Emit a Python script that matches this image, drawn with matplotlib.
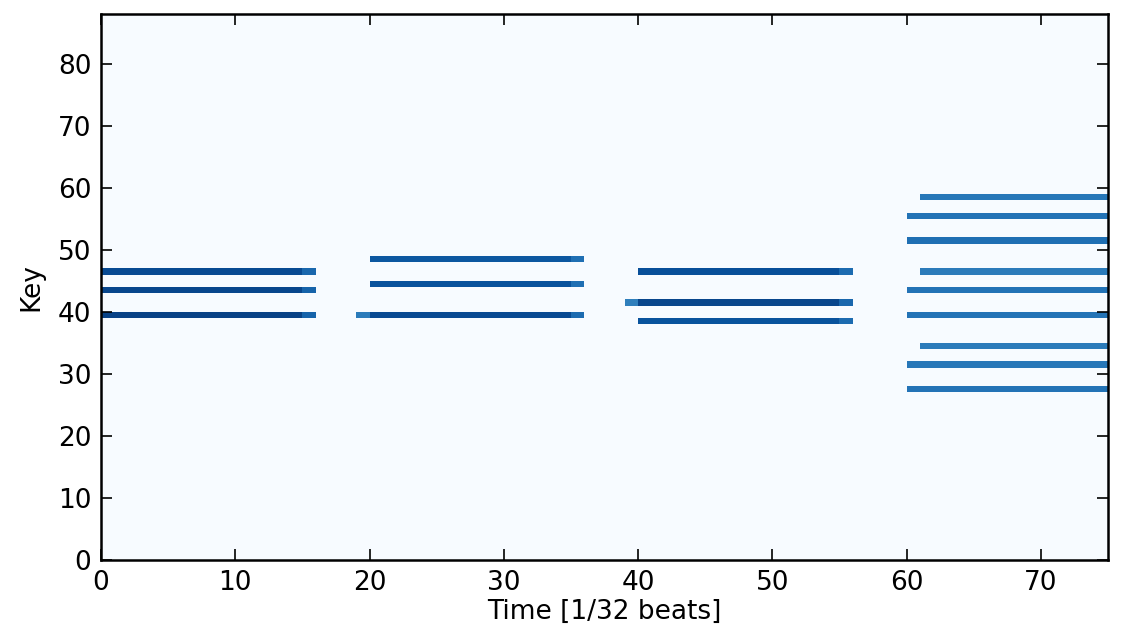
import numpy as np
import matplotlib.pyplot as plt

n_keys = 88
n_steps = 75

# notes: key, start step, end step (exclusive), velocity, velocity of the last step
keys   = [46, 43, 39,   48, 44, 39, 39,   46, 41, 41, 38,
          58, 55, 51, 46, 43, 39, 34, 31, 27]
starts = [0, 0, 0,      20, 20, 20, 19,   40, 40, 39, 40,
          61, 60, 60, 61, 60, 60, 61, 60, 60]
ends   = [16, 16, 16,   36, 36, 36, 20,   56, 56, 40, 56,
          75, 75, 75, 75, 75, 75, 75, 75, 75]
vels   = [114, 116, 118, 108, 110, 114, 90,  112, 116, 88, 110,
          92, 94, 96, 90, 94, 94, 90, 92, 94]
tails  = [100, 102, 102, 96, 96, 98, 90,  98, 100, 88, 98,
          92, 94, 96, 90, 94, 94, 90, 92, 94]

roll = np.zeros((n_keys, n_steps))
for k, s, e, v, t in zip(keys, starts, ends, vels, tails):
    roll[k, s:e] = v
    roll[k, e - 1] = t

fig = plt.figure(figsize=(11.24, 6.27), dpi=100)
ax = fig.add_axes([0.0899, 0.1069, 0.8959, 0.8708])
ax.imshow(roll, cmap='Blues', vmin=0, vmax=127, origin='lower', aspect='auto',
          interpolation='nearest', extent=(0, n_steps, 0, n_keys))

ax.set_xlim(0, n_steps)
ax.set_ylim(0, n_keys)
ax.set_xticks(np.arange(0, 71, 10))
ax.set_yticks(np.arange(0, 81, 10))
ax.tick_params(direction='in', top=True, right=True, length=8, width=1.2,
               labelsize=19, pad=7)
for sp in ax.spines.values():
    sp.set_linewidth(1.8)

ax.set_xlabel('Time [1/32 beats]', fontsize=19, labelpad=2)
ax.set_ylabel('Key', fontsize=19, labelpad=10)

fig.savefig('out.png', dpi=100)
